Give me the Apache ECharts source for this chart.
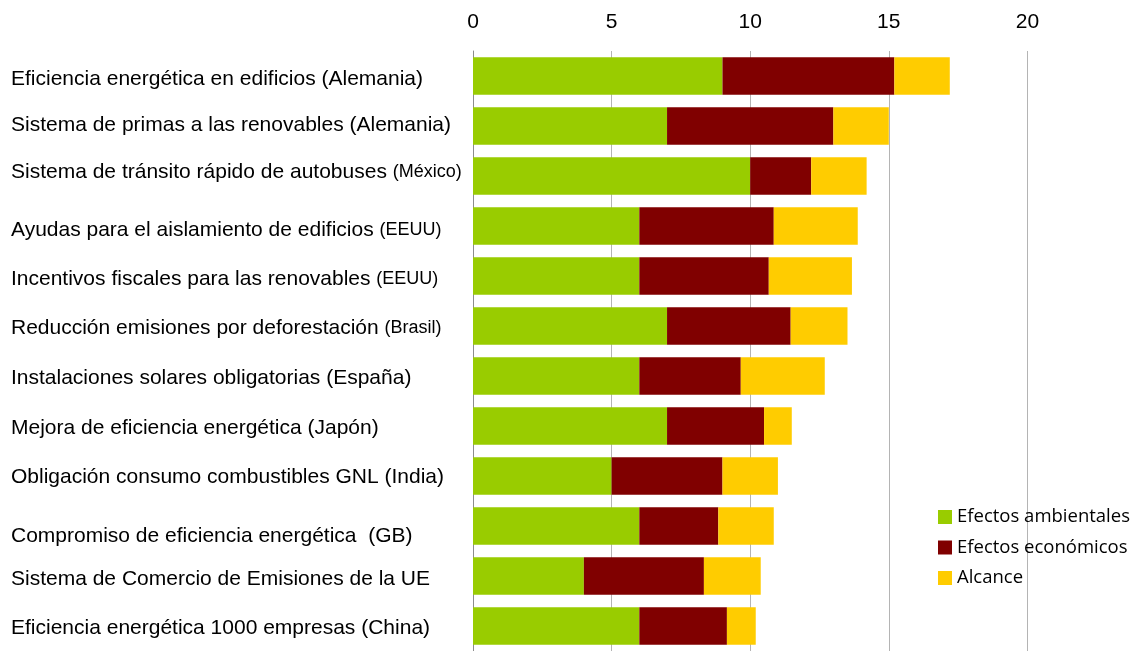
<!DOCTYPE html>
<html>
<head>
<meta charset="utf-8">
<script src="https://cdn.jsdelivr.net/npm/echarts@6/dist/echarts.min.js"></script>
<style>html,body{margin:0;padding:0;background:#fff;}#c{width:1138px;height:651px;}</style>
</head>
<body>
<div id="c"></div>
<script>
var categoryMain = [
  "Eficiencia energética en edificios (Alemania)",
  "Sistema de primas a las renovables (Alemania)",
  "Sistema de tránsito rápido de autobuses ",
  "Ayudas para el aislamiento de edificios ",
  "Incentivos fiscales para las renovables ",
  "Reducción emisiones por deforestación ",
  "Instalaciones solares obligatorias (España)",
  "Mejora de eficiencia energética (Japón)",
  "Obligación consumo combustibles GNL (India)",
  "Compromiso de eficiencia energética  (GB)",
  "Sistema de Comercio de Emisiones de la UE",
  "Eficiencia energética 1000 empresas (China)"
];
var categoryNote = ["", "", "(México)", "(EEUU)", "(EEUU)", "(Brasil)", "", "", "", "", "", ""];
var seriesNames = ["Efectos ambientales", "Efectos económicos", "Alcance"];
var ambientales = [9, 7, 10, 6, 6, 7, 6, 7, 5, 6, 4, 6];
var economicos = [6.2, 6, 2.2, 4.85, 4.67, 4.46, 3.66, 3.5, 4, 2.85, 4.33, 3.16];
var alcance = [2, 2, 2, 3.03, 3, 2.05, 3.03, 1, 2, 2, 2.05, 1.04];
var xTicks = [0, 5, 10, 15, 20];
var colors = ["#99cc00", "#800000", "#ffcc00"];

// layout: small vertical nudges of the category labels as in the original
var labelShift = [3, -1, -4, 4, 3, 2, 2, 2, 1, 10, 3.5, 2];

var categories = categoryMain.map(function (m, i) { return m + categoryNote[i]; });
var rich = {};
labelShift.forEach(function (s, i) {
  var pad = s >= 0 ? [2 * s, 0, 0, 0] : [0, 0, -2 * s, 0];
  rich['a' + i] = {fontFamily: 'Liberation Sans', fontSize: 21, color: '#000', padding: pad};
  rich['b' + i] = {fontFamily: 'Liberation Sans', fontSize: 18, color: '#000', padding: pad};
});
var chart = echarts.init(document.getElementById('c'), null, {renderer: 'canvas'});
var dataSets = [ambientales, economicos, alcance];
chart.setOption({
  animation: false,
  backgroundColor: '#fff',
  color: colors,
  grid: {left: 473, top: 51, width: 554.4, height: 605, containLabel: false},
  legend: {
    orient: 'vertical', left: 933, top: 502, padding: 5,
    itemWidth: 14, itemHeight: 14, itemGap: 10.5,
    icon: 'rect',
    textStyle: {fontFamily: 'Open Sans', fontSize: 18.5, lineHeight: 20, color: '#000'},
    data: seriesNames
  },
  xAxis: {
    type: 'value', position: 'top',
    min: xTicks[0], max: xTicks[xTicks.length - 1], interval: 5,
    axisLine: {show: false}, axisTick: {show: false},
    splitLine: {show: true, lineStyle: {color: '#b4b4b4', width: 1}},
    axisLabel: {fontFamily: 'Liberation Sans', fontSize: 21, color: '#000', margin: 18}
  },
  yAxis: {
    type: 'category', inverse: true, data: categories,
    axisLine: {show: true, lineStyle: {color: '#8c8c8c', width: 1}},
    axisTick: {show: false},
    axisLabel: {
      align: 'left', margin: 462,
      formatter: function (v, i) {
        return '{a' + i + '|' + categoryMain[i] + '}' + (categoryNote[i] ? '{b' + i + '|' + categoryNote[i] + '}' : '');
      },
      rich: rich
    }
  },
  series: seriesNames.map(function (n, k) {
    return {
      name: n, type: 'bar', stack: 'total', barCategoryGap: '25%',
      data: dataSets[k], itemStyle: {color: colors[k]}
    };
  })
});
</script>
</body>
</html>
